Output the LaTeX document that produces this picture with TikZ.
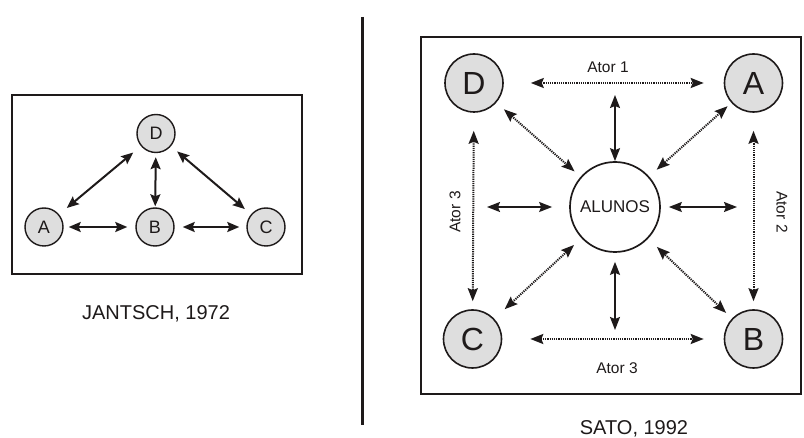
\documentclass[tikz,border=0pt]{standalone}
\usepackage{fontspec}
\setmainfont{Liberation Sans}
\usetikzlibrary{arrows.meta}
\definecolor{cfill}{RGB}{222,222,222}
\definecolor{ink}{RGB}{30,26,26}
\begin{document}
\begin{tikzpicture}[x=1pt,y=-1pt,
  every node/.style={text=ink},
  smallc/.style={circle,draw=ink,line width=1.4pt,fill=cfill,minimum size=38pt,inner sep=0pt,font=\fontsize{18}{18}\selectfont},
  bigc/.style={circle,draw=ink,line width=1.6pt,fill=cfill,minimum size=58pt,inner sep=0pt,font=\fontsize{32}{32}\selectfont},
  alc/.style={circle,draw=ink,line width=1.7pt,fill=white,minimum size=90pt,inner sep=0pt,font=\fontsize{17}{17}\selectfont},
  framebox/.style={draw=ink,line width=1.8pt},
  larrow/.style={draw=ink,line width=2pt,{Stealth[length=12pt,width=10pt,inset=2pt]}-{Stealth[length=12pt,width=10pt,inset=2pt]}},
  sarrow/.style={draw=ink,line width=1.6pt,{Stealth[length=13pt,width=10pt,inset=2pt]}-{Stealth[length=13pt,width=10pt,inset=2pt]}},
  darrow/.style={draw=ink,line width=2pt,dash pattern=on 1.2pt off 1pt,{Stealth[length=13pt,width=10pt,inset=2pt]}-{Stealth[length=13pt,width=10pt,inset=2pt]}},
  lbl/.style={font=\fontsize{15.5}{15.5}\selectfont,inner sep=0pt},
  captxt/.style={font=\fontsize{20}{20}\selectfont,inner sep=0pt,anchor=base}
]
\useasboundingbox[fill=white] (0,0) rectangle (804,438);

% ---------- left panel ----------
\draw[framebox] (11.7,95) rectangle (301.7,274);
\node[smallc] (lD) at (156,133.5) {D};
\node[smallc] (lA) at (44,227) {A};
\node[smallc] (lB) at (155,227) {B};
\node[smallc] (lC) at (266,227) {C};
\draw[larrow, shorten <=5pt, shorten >=8pt] (lA) -- (lB);
\draw[larrow, shorten <=8pt, shorten >=7pt] (lB) -- (lC);
\draw[larrow, shorten <=4pt, shorten >=1pt] (lD) -- (lB);
\draw[larrow, shorten <=10pt, shorten >=10pt] (lA) -- (lD);
\draw[larrow, shorten <=8pt, shorten >=8pt] (lD) -- (lC);
\node[captxt] (capL) at (156,320) {JANTSCH, 1972};

% ---------- divider ----------
\draw[draw=ink,line width=3pt] (362,17) -- (362,425);

% ---------- right panel ----------
\draw[framebox] (421,37) rectangle (801,394);
\node[bigc] (D) at (474,83) {D};
\node[bigc] (A) at (753.5,83) {A};
\node[bigc] (C) at (472.5,339) {C};
\node[bigc] (B) at (753.5,339) {B};
\node[alc] (AL) at (615,207) {ALUNOS};

\coordinate (t1) at (615,95);
\coordinate (b1) at (615,330);
\coordinate (l1) at (487,207);
\coordinate (r1) at (737,207);

\draw[darrow, shorten <=27pt, shorten >=20pt] (D) -- (A);
\draw[darrow, shorten <=28pt, shorten >=20pt] (C) -- (B);
\draw[darrow, shorten <=18pt, shorten >=8pt] (D) -- (C);
\draw[darrow, shorten <=18pt, shorten >=8pt] (A) -- (B);
\draw[darrow, shorten <=10pt, shorten >=8pt] (D) -- (AL);
\draw[darrow, shorten <=5pt, shorten >=10pt] (A) -- (AL);
\draw[darrow, shorten <=14pt, shorten >=10pt] (C) -- (AL);
\draw[darrow, shorten <=8pt, shorten >=12pt] (B) -- (AL);

\draw[sarrow] (t1) -- (AL);
\draw[sarrow, shorten >=17pt] (l1) -- (AL);
\draw[sarrow, shorten <=8pt] (AL) -- (r1);
\draw[sarrow, shorten <=9pt] (AL) -- (b1);

\node[lbl,anchor=base] (at1) at (608,72.7) {Ator 1};
\node[lbl,anchor=base] (at3b) at (617,374) {Ator 3};
\node[lbl,rotate=90] (at3l) at (455,212) {Ator 3};
\node[lbl,rotate=-90] (at2) at (782,212) {Ator 2};

\node[captxt] (capR) at (634,435) {SATO, 1992};
\end{tikzpicture}
\end{document}
